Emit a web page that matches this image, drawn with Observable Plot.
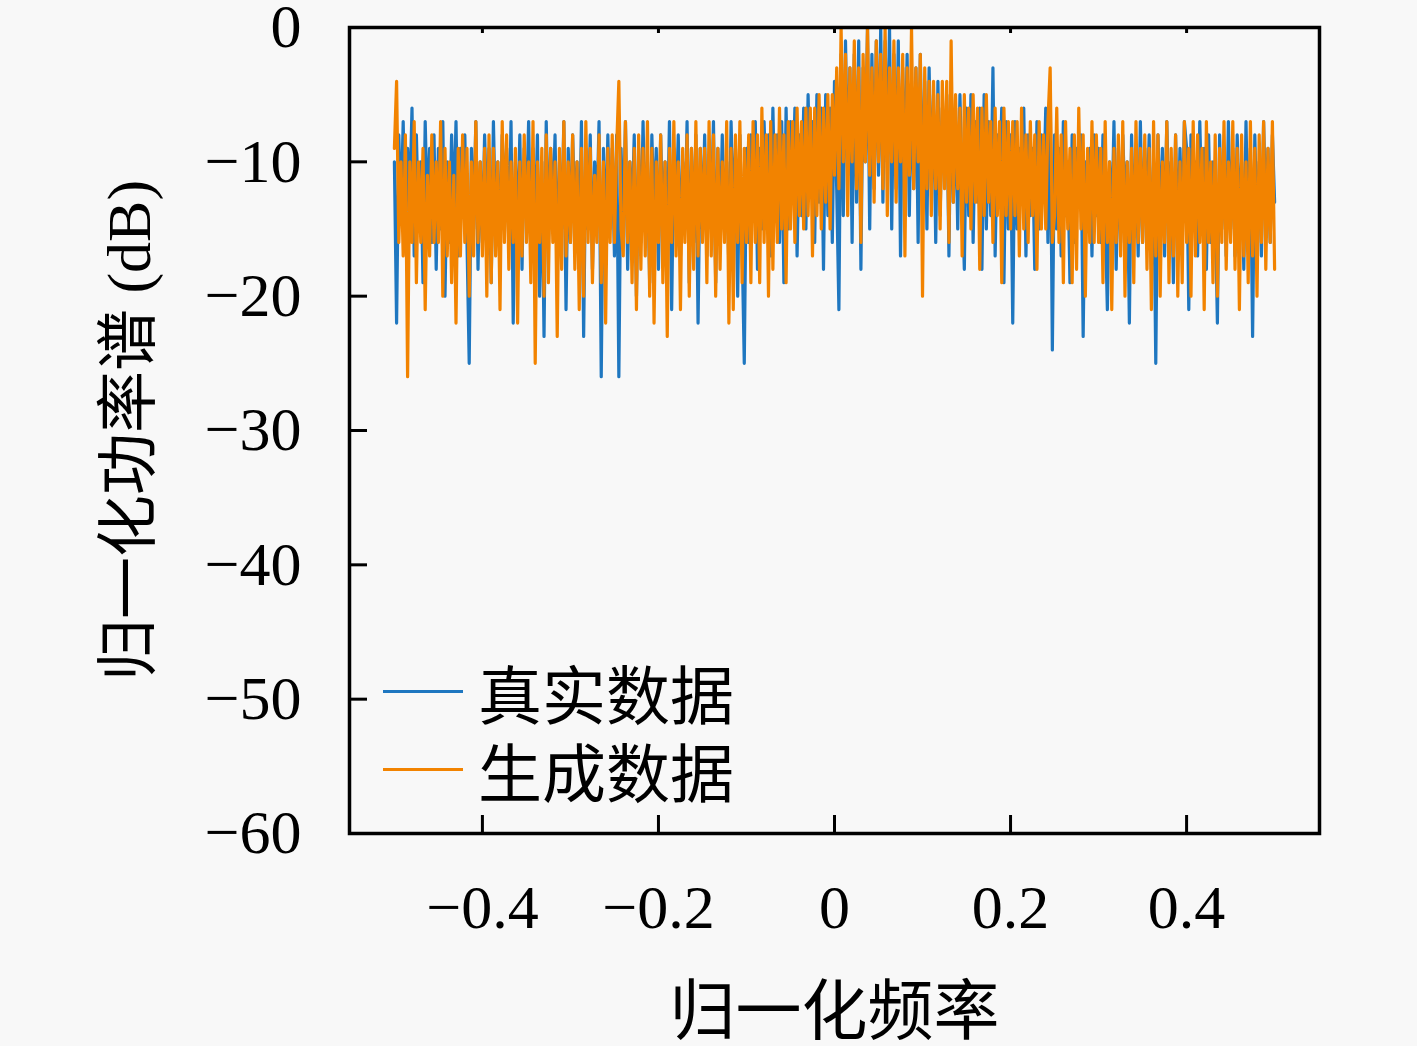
<!DOCTYPE html>
<html>
<head>
<meta charset="utf-8">
<script src="https://cdn.jsdelivr.net/npm/d3@7"></script>
<script src="https://cdn.jsdelivr.net/npm/@observablehq/plot@0.6"></script>
<style>
  html, body { margin: 0; padding: 0; background: #f8f8f8; }
  #wrap { position: relative; width: 1417px; height: 1046px; }
  #legend { position: absolute; left: 383px; top: 652px; font-family: "Noto Sans CJK SC", sans-serif; font-size: 64px; line-height: 1; color: #000; }
  .row { display: flex; align-items: center; height: 78px; }
  .row span { line-height: 1; display: inline-block; }
  .sw { width: 80px; height: 3px; margin-right: 15px; }
</style>
</head>
<body>
<div id="wrap"><div id="legend"></div></div>
<script>
// ---- data ----
const freqStart = -0.5, freqEnd = 0.5, binCount = 401;
const realPSD = [
  -10,-22,-8,-14,-7,-16,-9,-13,-6,-17,-8,-15,-10,-19,-7,-14,-9,-16,-8,-18,
  -9,-15,-7,-20,-10,-16,-8,-14,-7,-17,-9,-13,-8,-16,-25,-9,-15,-7,-18,-10,
  -16,-8,-14,-9,-19,-7,-15,-10,-17,-8,-13,-9,-16,-7,-22,-10,-15,-8,-18,-9,
  -14,-7,-17,-9,-15,-8,-20,-10,-23,-7,-16,-9,-14,-8,-18,-10,-15,-7,-21,-9,
  -16,-8,-14,-10,-17,-7,-23,-9,-15,-8,-18,-10,-14,-7,-26,-9,-16,-8,-15,-9,
  -17,-8,-26,-9,-15,-7,-18,-10,-14,-8,-20,-9,-16,-7,-15,-10,-19,-8,-14,-9,
  -18,-8,-15,-10,-16,-7,-21,-9,-14,-8,-17,-10,-15,-7,-19,-9,-16,-8,-22,-9,
  -15,-8,-17,-10,-14,-7,-19,-9,-16,-8,-15,-10,-18,-7,-14,-9,-20,-8,-16,-25,
  -9,-16,-8,-14,-7,-18,-9,-15,-7,-13,-8,-17,-6,-14,-8,-16,-7,-19,-6,-15,
  -7,-13,-6,-17,-8,-14,-6,-15,-5,-12,-7,-16,-5,-13,-6,-18,-5,-14,-6,-16,
  -4,-12,-21,-2,-14,-1,-11,-3,-16,-2,-13,-1,-18,-3,-10,0,-15,-2,-12,-1,
  -11,0,-13,-1,-10,0,-15,-2,-12,-1,-17,-3,-11,-2,-14,-4,-12,-3,-16,-2,
  -13,-4,-15,-3,-12,-5,-16,-4,-14,-6,-11,-5,-17,-4,-13,-6,-15,-5,-12,-18,
  -6,-14,-5,-16,-7,-13,-6,-18,-5,-15,-7,-14,-3,-17,-8,-12,-6,-19,-7,-15,
  -8,-22,-7,-15,-9,-13,-6,-17,-8,-14,-9,-18,-7,-15,-8,-13,-6,-16,-4,-24,
  -8,-15,-9,-17,-7,-14,-10,-19,-8,-16,-9,-13,-8,-23,-10,-15,-9,-17,-8,-14,
  -9,-16,-8,-14,-21,-10,-15,-7,-18,-9,-16,-8,-13,-10,-22,-8,-15,-9,-17,-7,
  -16,-9,-14,-8,-18,-10,-25,-8,-15,-9,-17,-7,-14,-10,-19,-8,-16,-9,-15,-7,
  -9,-21,-8,-15,-10,-17,-7,-14,-9,-18,-8,-16,-10,-13,-22,-8,-15,-9,-17,-7,
  -15,-9,-17,-8,-14,-10,-18,-7,-16,-9,-23,-8,-15,-10,-17,-7,-14,-9,-16,-8,
  -13
];
const generatedPSD = [
  -9,-4,-16,-10,-17,-8,-26,-10,-16,-7,-19,-10,-16,-9,-21,-11,-17,-8,-16,-10,
  -16,-7,-20,-9,-17,-10,-19,-11,-22,-9,-17,-8,-16,-9,-20,-10,-17,-7,-16,-10,
  -17,-9,-20,-8,-19,-9,-17,-10,-21,-7,-16,-8,-18,-10,-16,-9,-22,-10,-17,-8,
  -16,-10,-19,-7,-25,-10,-16,-9,-20,-8,-19,-9,-16,-10,-23,-9,-18,-7,-17,-10,
  -16,-8,-18,-10,-21,-9,-20,-7,-16,-9,-19,-11,-16,-8,-19,-10,-22,-9,-16,-8,
  -16,-9,-4,-15,-17,-7,-16,-10,-19,-9,-21,-8,-18,-9,-17,-7,-20,-9,-22,-10,
  -16,-8,-19,-10,-23,-9,-16,-7,-17,-10,-21,-9,-16,-8,-20,-9,-18,-7,-17,-9,
  -16,-9,-19,-7,-17,-8,-20,-9,-18,-10,-16,-7,-22,-9,-21,-8,-16,-7,-19,-9,
  -16,-8,-19,-7,-16,-8,-19,-6,-16,-8,-20,-7,-18,-8,-16,-6,-15,-8,-19,-7,
  -15,-7,-16,-6,-14,-7,-15,-6,-14,-6,-17,-6,-14,-5,-15,-6,-13,-5,-15,-5,
  -11,-3,-12,0,-10,-2,-14,-3,-10,-1,-12,-3,-16,-2,-10,0,-11,-3,-13,-1,
  -10,-2,-12,0,-14,-3,-10,-1,-13,-3,-10,-2,-17,-3,-11,0,-12,-3,-10,-2,
  -20,-3,-12,-4,-14,-4,-12,-5,-15,-4,-12,-4,-16,-1,-13,-5,-12,-6,-17,-5,
  -13,-6,-15,-5,-13,-6,-18,-6,-14,-5,-13,-7,-16,-6,-14,-7,-19,-6,-14,-7,
  -15,-7,-14,-7,-17,-6,-15,-8,-16,-7,-14,-8,-18,-7,-15,-8,-15,-7,-3,-16,
  -14,-6,-16,-8,-19,-7,-15,-9,-19,-8,-18,-6,-15,-8,-20,-9,-16,-7,-16,-8,
  -16,-9,-19,-7,-16,-10,-21,-9,-16,-8,-17,-7,-20,-10,-16,-9,-19,-7,-16,-9,
  -16,-8,-18,-9,-21,-7,-17,-8,-20,-10,-16,-7,-19,-9,-17,-8,-20,-10,-19,-7,
  -16,-9,-20,-7,-17,-8,-16,-9,-21,-7,-16,-10,-19,-8,-20,-9,-16,-7,-18,-10,
  -16,-7,-18,-9,-21,-8,-17,-10,-19,-7,-17,-9,-20,-8,-16,-7,-18,-9,-16,-7,
  -18
];
const seriesNames = ["真实数据", "生成数据"];
const seriesColors = ["#1f77c0", "#f28300"];
const xTicks = [-0.4, -0.2, 0, 0.2, 0.4];
const xTickLabels = ["−0.4", "−0.2", "0", "0.2", "0.4"];
const yTicks = [0, -10, -20, -30, -40, -50, -60];
const yTickLabels = ["0", "−10", "−20", "−30", "−40", "−50", "−60"];
const xLabel = "归一化频率";
const yLabel = "归一化功率谱 (dB)";

// frequency bins (uniform FFT grid)
const bins = d3.range(binCount).map(i => freqStart + (freqEnd - freqStart) * i / (binCount - 1));
const rows = [];
[realPSD, generatedPSD].forEach((arr, s) => arr.forEach((v, i) => rows.push({f: bins[i], p: v, s: seriesNames[s]})));

const W = 1417, H = 1046, mL = 349, mR = 98, mT = 27, mB = 213;
const plotW = W - mL - mR, plotH = H - mT - mB;
const serif = "'Liberation Serif', 'Noto Sans CJK SC', serif";

const chart = Plot.plot({
  width: W, height: H,
  marginLeft: mL, marginRight: mR, marginTop: mT, marginBottom: mB,
  style: {background: "#f8f8f8", color: "#000", overflow: "visible"},
  x: {domain: [-0.551, 0.551]},
  y: {domain: [-60, 0]},
  color: {domain: seriesNames, range: seriesColors},
  marks: [
    Plot.line(rows.filter(d => d.s === seriesNames[0]), {x: "f", y: "p", stroke: seriesColors[0], strokeWidth: 3.2}),
    Plot.line(rows.filter(d => d.s === seriesNames[1]), {x: "f", y: "p", stroke: seriesColors[1], strokeWidth: 3.2}),
    Plot.tickX(xTicks, {x: d => d, insetTop: plotH - 18, stroke: "#000", strokeWidth: 3}),
    Plot.tickX(xTicks, {x: d => d, insetBottom: plotH - 6, stroke: "#000", strokeWidth: 3}),
    Plot.tickY(yTicks, {y: d => d, insetRight: plotW - 18, stroke: "#000", strokeWidth: 3}),
    Plot.frame({stroke: "#000", strokeWidth: 3.5}),
    Plot.axisX({ticks: xTicks, tickFormat: d => xTickLabels[xTicks.indexOf(d)], tickSize: 0, tickPadding: 50, fontSize: 62, fontFamily: serif, label: null}),
    Plot.axisY({ticks: yTicks, tickFormat: d => yTickLabels[yTicks.indexOf(d)], tickSize: 0, tickPadding: 48, fontSize: 62, fontFamily: serif, label: null}),
    Plot.text([xLabel], {frameAnchor: "bottom", dy: 200, fontSize: 66, fontFamily: serif, fill: "#000"}),
    Plot.text([yLabel], {frameAnchor: "left", dx: -219, rotate: -90, textAnchor: "middle", fontSize: 62, fontFamily: serif, fill: "#000"})
  ]
});
document.getElementById("wrap").prepend(chart);

const legend = document.getElementById("legend");
seriesNames.forEach((n, i) => {
  const r = document.createElement("div");
  r.className = "row";
  const sw = document.createElement("div");
  sw.className = "sw";
  sw.style.background = seriesColors[i];
  const t = document.createElement("span");
  t.textContent = n;
  r.appendChild(sw); r.appendChild(t);
  legend.appendChild(r);
});
</script>
</body>
</html>
